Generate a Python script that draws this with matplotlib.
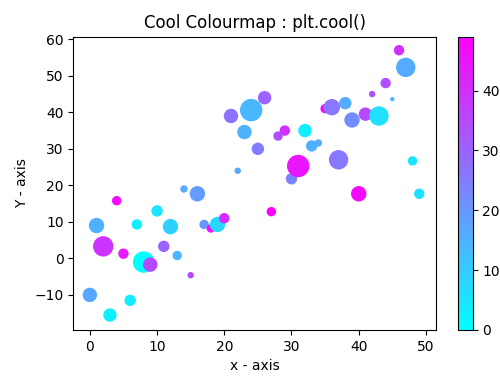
import matplotlib
matplotlib.use("Agg")
import matplotlib.pyplot as plt
import numpy as np

x = np.arange(50)
y = [-10, 9, 3.3, -15.5, 15.8, 1.3, -11.5, 9.3, -1, -1.7,
     13, 3.3, 8.7, 0.8, 19, -4.6, 17.7, 9.3, 8.2, 9.3,
     11, 39, 24, 34.6, 40.6, 30, 44, 12.8, 33.5, 35,
     21.8, 25.3, 35, 30.8, 31.6, 41, 41.4, 27, 42.5, 37.9,
     17.7, 39.5, 45, 39, 48, 43.6, 57, 52.3, 26.7, 17.7]
colours = [17, 15, 39, 3, 47, 44, 4, 3, 0, 35,
           5, 30, 9, 14, 16, 35, 19, 20, 46, 8,
           41, 27, 17, 15, 14, 25, 30, 49, 34, 40,
           24, 45, 3, 15, 16, 46, 26, 26, 16, 22,
           47, 35, 34, 6, 34, 15, 40, 16, 5, 6]
# marker diameters, in pixels
diam_px = [13, 14, 19, 12, 8, 9, 10, 9, 20, 13,
           10, 10, 14, 8, 6, 5, 14, 8, 7, 14,
           9, 13, 5, 13, 21, 11, 12, 8, 8, 9,
           10, 21, 12, 10, 6, 8, 15, 18, 11, 14,
           14, 12, 5, 18, 9, 3, 9, 18, 8, 9]

dpi = 100
sizes = (np.array(diam_px) * 72 / dpi) ** 2

fig = plt.figure(figsize=(5, 3.8), dpi=dpi)
ax = fig.add_axes([0.1467, 0.1316, 0.7247, 0.7718])
cax = fig.add_axes([0.916, 0.1316, 0.0294, 0.7718])

sc = ax.scatter(x, y, c=colours, s=sizes, cmap="cool")
ax.set_title("Cool Colourmap : plt.cool()")
ax.set_xlabel("x - axis")
ax.set_ylabel("Y - axis")
ax.set_yticks([-10, 0, 10, 20, 30, 40, 50, 60])
ax.set_ylim(-19.6, 60.7)

fig.colorbar(sc, cax=cax)

fig.savefig("out.png", dpi=dpi)
